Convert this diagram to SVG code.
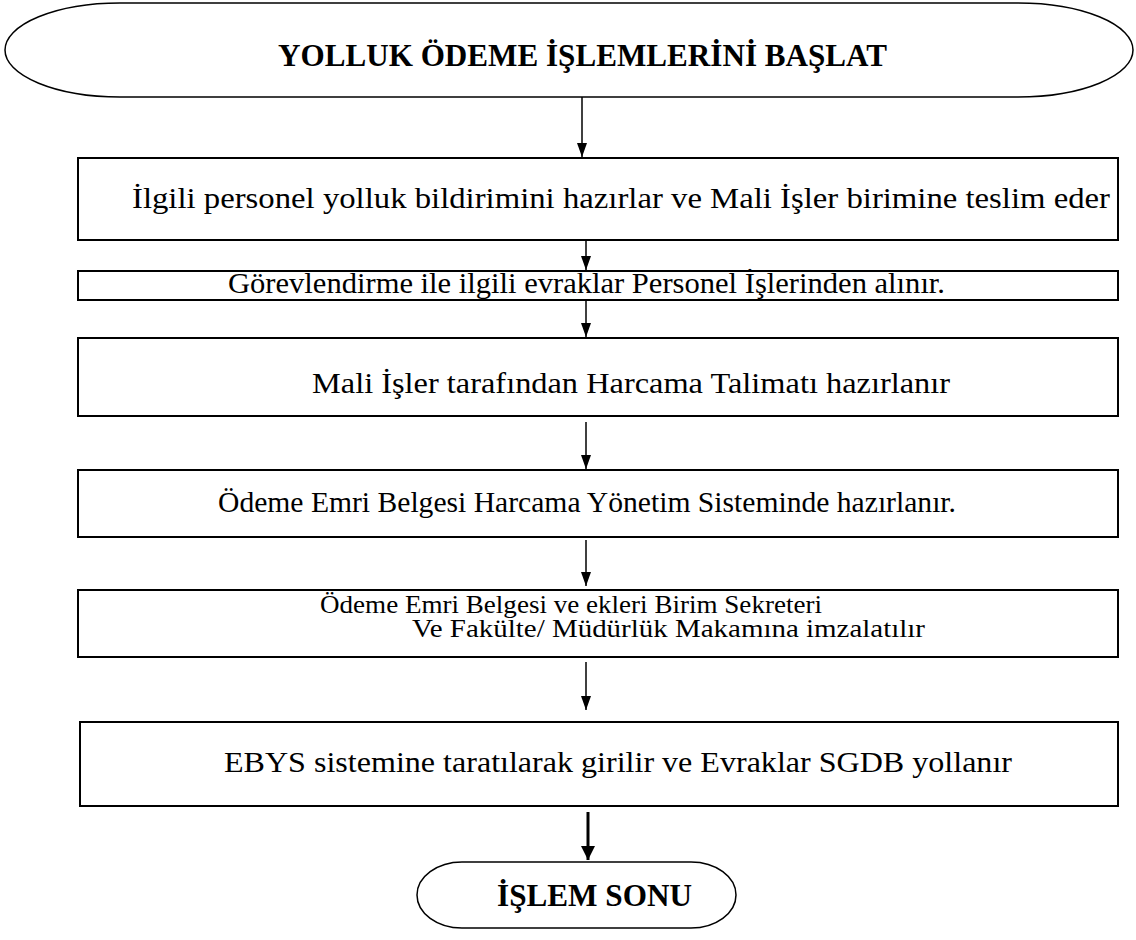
<svg xmlns="http://www.w3.org/2000/svg" width="1136" height="940" viewBox="0 0 1136 940">
<style>
.box{fill:#fff;stroke:#000;stroke-width:2}
.term{fill:#fff;stroke:#000;stroke-width:1.5}
.t{font-family:"Liberation Serif","Times New Roman",serif;font-size:29px;fill:#000}
.s{font-size:25px}
.b{font-family:"Liberation Serif","Times New Roman",serif;font-size:31px;font-weight:bold;fill:#000}
.c{stroke:#000;stroke-width:1.5;fill:none}
.c2{stroke:#000;stroke-width:3;fill:none}
</style>
<defs>
<marker id="ah" markerWidth="14" markerHeight="10" refX="14" refY="5" orient="auto" markerUnits="userSpaceOnUse" viewBox="0 0 14 10">
<path d="M0,0 L14,5 L0,10 Z" fill="#000"/>
</marker>
<marker id="ah2" markerWidth="14" markerHeight="14" refX="14" refY="7" orient="auto" markerUnits="userSpaceOnUse" viewBox="0 0 14 14">
<path d="M0,0 L14,7 L0,14 Z" fill="#000"/>
</marker>
</defs>
<rect width="1136" height="940" fill="#fff"/>
<g id="connectors">
<line class="c" x1="582" y1="97" x2="582" y2="157" marker-end="url(#ah)"/>
<line class="c" x1="586" y1="241" x2="586" y2="270" marker-end="url(#ah)"/>
<line class="c" x1="586" y1="301" x2="586" y2="337" marker-end="url(#ah)"/>
<line class="c" x1="586" y1="422" x2="586" y2="469" marker-end="url(#ah)"/>
<line class="c" x1="586" y1="540" x2="586" y2="586" marker-end="url(#ah)"/>
<line class="c" x1="586" y1="662" x2="586" y2="710" marker-end="url(#ah)"/>
<line class="c2" x1="588" y1="812" x2="588" y2="860" marker-end="url(#ah2)"/>
</g>
<g id="start">
<rect class="term" x="5" y="3" width="1128" height="94" rx="115" ry="47"/>
<text class="b" x="278" y="66" textLength="609" lengthAdjust="spacingAndGlyphs">YOLLUK ÖDEME İŞLEMLERİNİ BAŞLAT</text>
</g>
<g id="step1">
<rect class="box" x="78" y="158" width="1040" height="82"/>
<text class="t" x="132" y="208" textLength="978" lengthAdjust="spacingAndGlyphs">İlgili personel yolluk bildirimini hazırlar ve Mali İşler birimine teslim eder</text>
</g>
<g id="step2">
<rect class="box" x="78" y="271" width="1040" height="29"/>
<text class="t" x="228" y="293" textLength="717" lengthAdjust="spacingAndGlyphs">Görevlendirme ile ilgili evraklar Personel İşlerinden alınır.</text>
</g>
<g id="step3">
<rect class="box" x="78" y="338" width="1040" height="78"/>
<text class="t" x="312" y="393" textLength="638" lengthAdjust="spacingAndGlyphs">Mali İşler tarafından Harcama Talimatı hazırlanır</text>
</g>
<g id="step4">
<rect class="box" x="78" y="470" width="1040" height="67"/>
<text class="t" x="218" y="512" textLength="738" lengthAdjust="spacingAndGlyphs">Ödeme Emri Belgesi Harcama Yönetim Sisteminde hazırlanır.</text>
</g>
<g id="step5">
<rect class="box" x="78" y="590" width="1040" height="67"/>
<text class="t s" x="320" y="613" textLength="502" lengthAdjust="spacingAndGlyphs">Ödeme Emri Belgesi ve ekleri Birim Sekreteri</text>
<text class="t s" x="412" y="637" textLength="513" lengthAdjust="spacingAndGlyphs">Ve Fakülte/ Müdürlük Makamına imzalatılır</text>
</g>
<g id="step6">
<rect class="box" x="80" y="722" width="1038" height="84"/>
<text class="t" x="224" y="772" textLength="788" lengthAdjust="spacingAndGlyphs">EBYS sistemine taratılarak girilir ve Evraklar SGDB yollanır</text>
</g>
<g id="end">
<rect class="term" x="417" y="862" width="319" height="66" rx="45" ry="33"/>
<text class="b" x="497" y="906" textLength="195" lengthAdjust="spacingAndGlyphs">İŞLEM SONU</text>
</g>
</svg>
